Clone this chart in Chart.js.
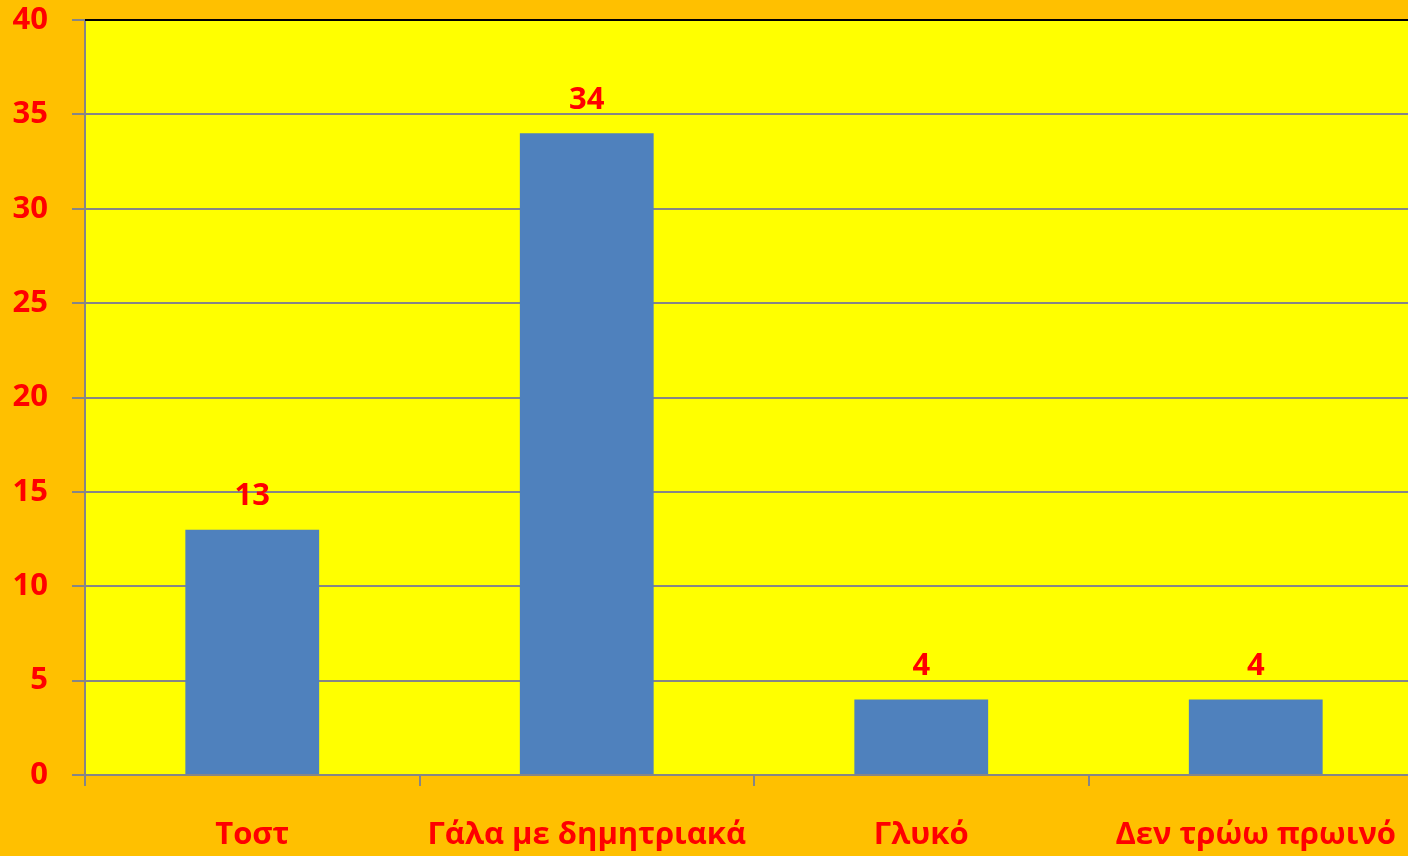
<!DOCTYPE html>
<html>
<head>
<meta charset="utf-8">
<script src="https://cdn.jsdelivr.net/npm/chart.js@4"></script>
<style>
  html, body { margin: 0; padding: 0; background: #FFC000; overflow: hidden; }
  #wrap { width: 1430px; height: 856px; }
</style>
</head>
<body>
<div id="wrap"><canvas id="breakfastChart" width="1430" height="856"></canvas></div>
<script>
// Τι τρώνε για πρωινό
const categories = ["Τοστ", "Γάλα με δημητριακά", "Γλυκό", "Δεν τρώω πρωινό"];
const answers = [13, 34, 4, 4];
const yTicks = [0, 5, 10, 15, 20, 25, 30, 35, 40];

const FONT = "'Open Sans', sans-serif";
const RED = "#FF0000";

// κίτρινο φόντο στην περιοχή του γραφήματος + μαύρη γραμμή επάνω
const plotArea = {
    id: "plotArea",
    beforeDraw(chart) {
        const { ctx, chartArea: a } = chart;
        ctx.save();
        ctx.fillStyle = "#FFFF00";
        ctx.fillRect(a.left, a.top, a.right - a.left, a.bottom - a.top);
        ctx.restore();
    },
    afterDraw(chart) {
        const { ctx, chartArea: a } = chart;
        ctx.save();
        ctx.strokeStyle = "#000000";
        ctx.lineWidth = 2;
        ctx.beginPath();
        ctx.moveTo(a.left, a.top);
        ctx.lineTo(a.right, a.top);
        ctx.stroke();
        ctx.restore();
    }
};

// τιμές πάνω από κάθε στήλη
const valueLabels = {
    id: "valueLabels",
    afterDatasetsDraw(chart) {
        const { ctx } = chart;
        const meta = chart.getDatasetMeta(0);
        ctx.save();
        ctx.fillStyle = RED;
        ctx.font = "bold 31px " + FONT;
        ctx.textAlign = "center";
        ctx.textBaseline = "middle";
        meta.data.forEach((bar, i) => {
            ctx.fillText(String(answers[i]), bar.x, bar.y - 33);
        });
        ctx.restore();
    }
};

document.addEventListener("DOMContentLoaded", () => {
    const ctx = document.getElementById("breakfastChart").getContext("2d");
    new Chart(ctx, {
        type: "bar",
        data: {
            labels: categories,
            datasets: [{
                data: answers,
                backgroundColor: "#4F81BD",
                barPercentage: 0.4,
                categoryPercentage: 1
            }]
        },
        options: {
            responsive: false,
            animation: false,
            layout: { padding: { left: 0, top: 20, right: 7, bottom: 0 } },
            plugins: {
                legend: { display: false },
                tooltip: { enabled: false }
            },
            scales: {
                x: {
                    grid: {
                        offset: true,
                        drawOnChartArea: false,
                        drawTicks: true,
                        tickLength: 11,
                        color: "#868686",
                        lineWidth: 2
                    },
                    border: { color: "#868686", width: 2 },
                    ticks: {
                        color: RED,
                        font: { family: FONT, size: 31, weight: "bold" },
                        padding: 31,
                        maxRotation: 0,
                        autoSkip: false
                    },
                    afterFit: s => {
                        s.height = 81;
                        s.paddingLeft = 0;
                        s.paddingRight = 0;
                    }
                },
                y: {
                    min: 0,
                    max: 40,
                    afterBuildTicks: s => { s.ticks = yTicks.map(v => ({ value: v })); },
                    grid: {
                        color: "#868686",
                        lineWidth: 2,
                        tickLength: 13
                    },
                    border: { color: "#868686", width: 2 },
                    ticks: {
                        color: RED,
                        font: { family: FONT, size: 31, weight: "bold" },
                        padding: 24
                    },
                    afterFit: s => {
                        s.width = 85;
                        s.paddingTop = 0;
                        s.paddingBottom = 0;
                    }
                }
            }
        },
        plugins: [plotArea, valueLabels]
    });
});
</script>
</body>
</html>
